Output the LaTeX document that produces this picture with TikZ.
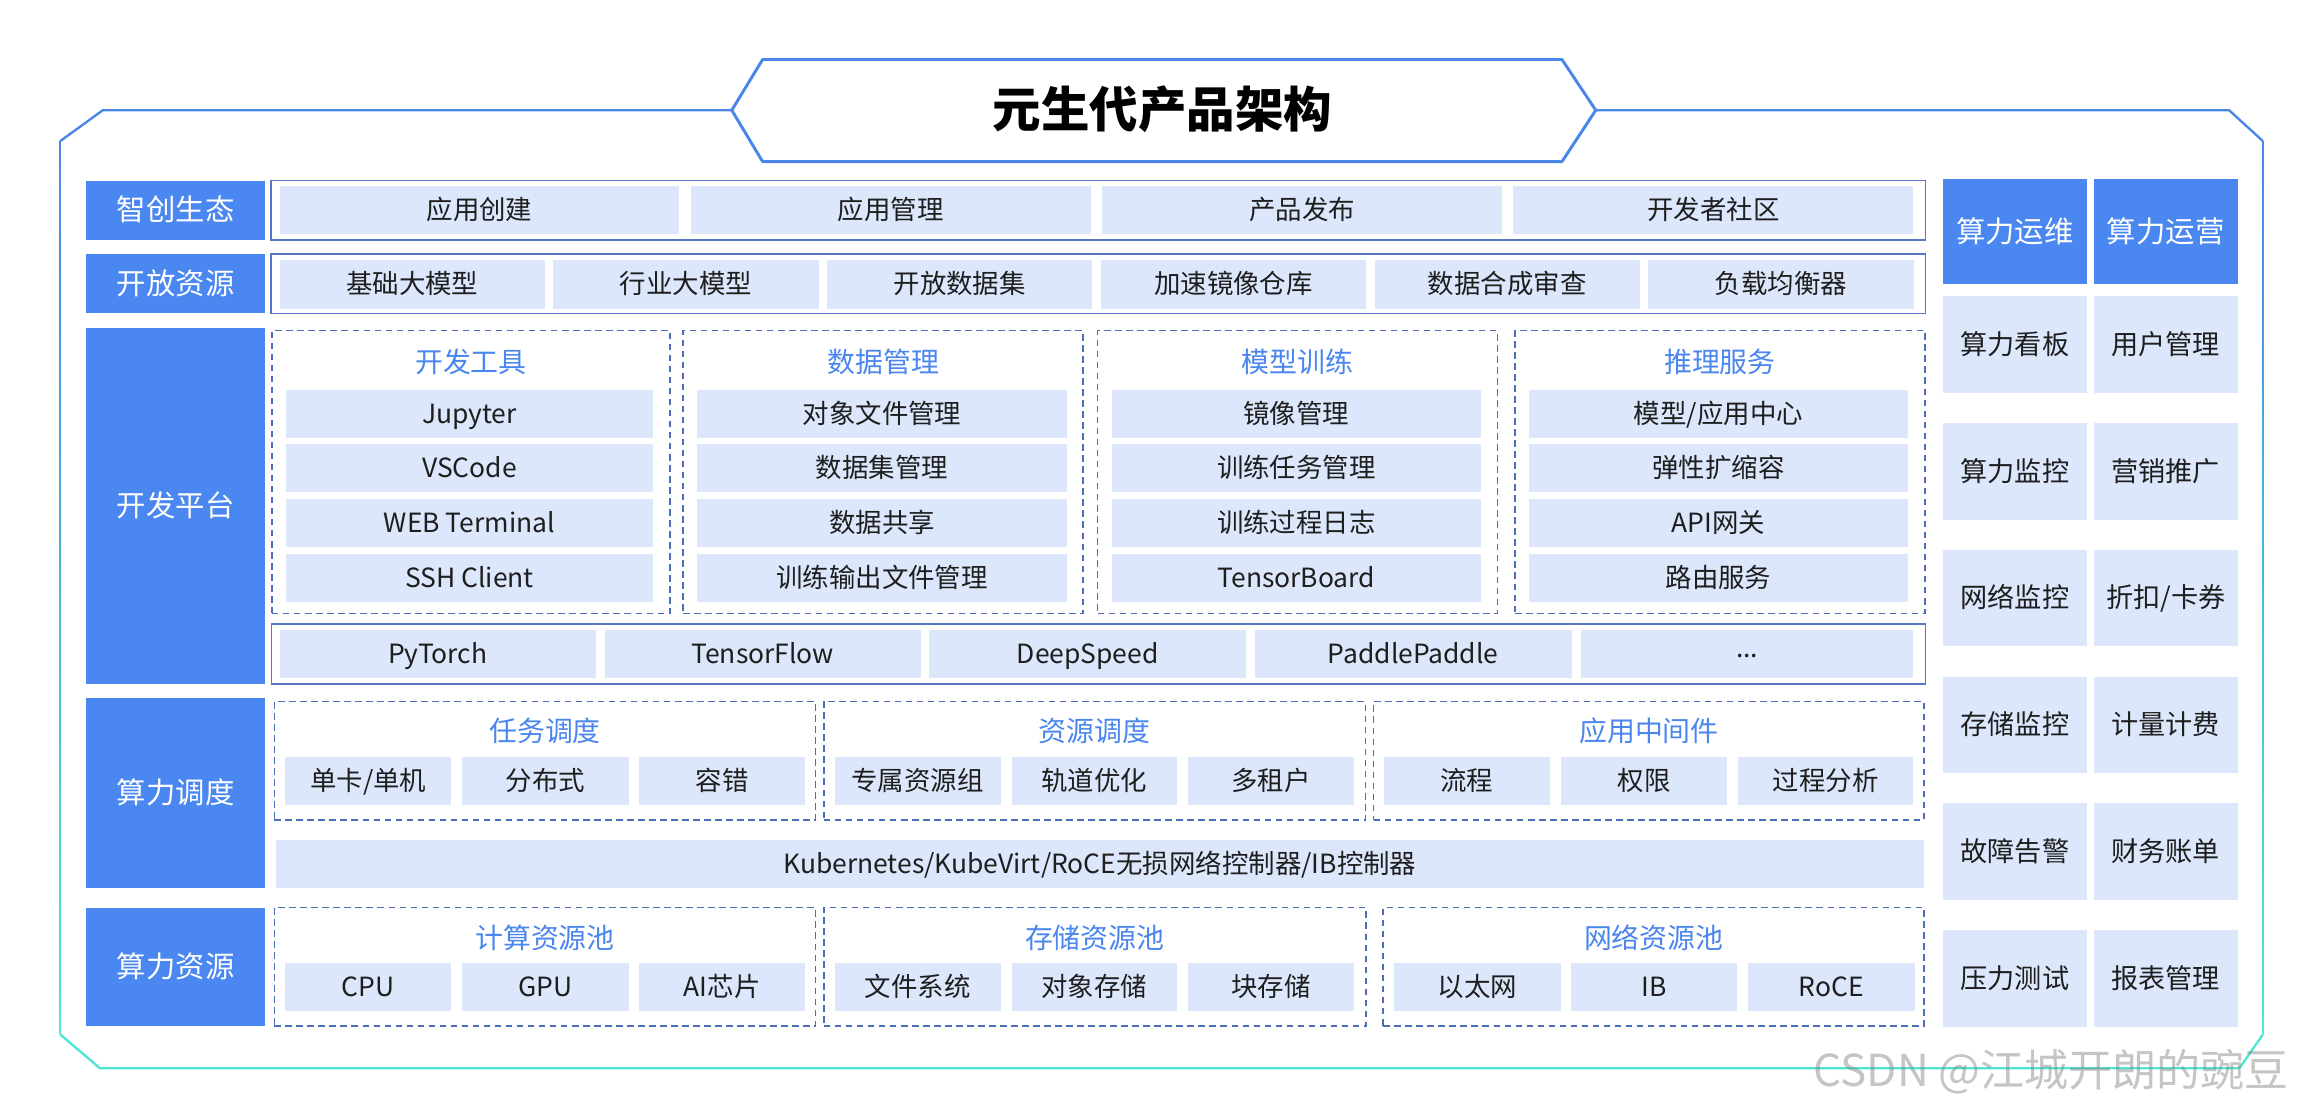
\documentclass[tikz,border=0pt]{standalone}
\usepackage{fontspec}
\setmainfont{Noto Sans CJK SC}
\definecolor{lbl}{HTML}{4A87F1}
\definecolor{cellc}{HTML}{DCE7FC}
\definecolor{dashc}{HTML}{4D6FB8}
\definecolor{outc}{HTML}{5678C4}
\definecolor{ttl}{HTML}{4A86EE}
\definecolor{txt}{HTML}{1E1E1E}
\definecolor{frtop}{HTML}{4A86E8}
\definecolor{frbot}{HTML}{4FE6D2}
\newcommand\mybox[7]{\node[#1,minimum width={(#5)-(#3)},minimum height={(#6)-(#4)}] (#2) at ({((#3)+(#5))/2},{((#4)+(#6))/2}) {#7};}
\begin{document}
\begin{tikzpicture}[x=1pt,y=-1pt,
  lab/.style={fill=lbl,text=white,font=\fontsize{20}{22}\selectfont,inner sep=0,outer sep=0,text height=17.2pt,text depth=2.8pt},
  cell/.style={fill=cellc,text=txt,font=\fontsize{18}{20}\selectfont,inner sep=0,outer sep=0,text height=15.5pt,text depth=2.5pt},
  rcell/.style={cell,font=\fontsize{18.5}{20}\selectfont,text height=15.9pt,text depth=2.6pt},
  grp/.style={draw=dashc,dash pattern=on 4.5pt off 3pt,line width=1.1pt,inner sep=0},
  outb/.style={draw=outc,line width=1pt,inner sep=0},
  gtitle/.style={text=ttl,font=\fontsize{19}{21}\selectfont,inner sep=0,text height=16.3pt,text depth=2.7pt}]
\useasboundingbox (0,0) rectangle (1568,755);
\fill[white] (0,0) rectangle (1568,755);
% ---- outer frame ----
\draw[frtop,line width=1.6pt,line join=round] (498,75) -- (70,75) -- (41,96);
\draw[frtop,line width=1.6pt,line join=round] (1086,75) -- (1517,75) -- (1540,96);
\foreach \i in {0,...,39}{
  \pgfmathsetmacro\ya{96+\i*15.2}
  \pgfmathsetmacro\yb{96+(\i+1)*15.2}
  \pgfmathtruncatemacro\p{100-\i*100/39}
  \draw[color=frtop!\p!frbot,line width=1.6pt] (41,\ya) -- (41,\yb);
  \draw[color=frtop!\p!frbot,line width=1.6pt] (1540,\ya) -- (1540,\yb);
}
\draw[frbot,line width=1.6pt,line join=round] (41,704) -- (68,727) -- (1524,727) -- (1540,704);
% ---- title ----
\draw[frtop,line width=2pt,fill=white,line join=round] (498,75) -- (519,40.5) -- (1063,40.5) -- (1086,75) -- (1063,110) -- (519,110) -- cycle;
\node[font=\fontsize{33}{36}\selectfont\bfseries,text=black,inner sep=0,text height=28.4pt,text depth=4.6pt] (title) at (791,75) {元生代产品架构};
% ---- left labels ----
\mybox{lab}{L1}{58.6}{123}{180.5}{163.3}{智创生态}
\mybox{lab}{L2}{58.6}{173}{180.5}{213.3}{开放资源}
\mybox{lab}{L3}{58.6}{223}{180.5}{465.5}{开发平台}
\mybox{lab}{L4}{58.6}{475}{180.5}{604.5}{算力调度}
\mybox{lab}{L5}{58.6}{618}{180.5}{698.3}{算力资源}
% ---- row 1 ----
\mybox{outb}{B1}{184.4}{123}{1310.5}{163.3}{}
\mybox{cell}{a1}{190.3}{126.6}{462.3}{159.5}{应用创建}
\mybox{cell}{a2}{470.2}{126.6}{742.2}{159.5}{应用管理}
\mybox{cell}{a3}{750.1}{126.6}{1022.1}{159.5}{产品发布}
\mybox{cell}{a4}{1030}{126.6}{1302}{159.5}{开发者社区}
% ---- row 2 ----
\mybox{outb}{B2}{184.4}{173}{1310.5}{213.3}{}
\mybox{cell}{b1}{190.3}{177}{370.8}{210}{基础大模型}
\mybox{cell}{b2}{376.6}{177}{557.1}{210}{行业大模型}
\mybox{cell}{b3}{562.9}{177}{743.4}{210}{开放数据集}
\mybox{cell}{b4}{749.2}{177}{929.7}{210}{加速镜像仓库}
\mybox{cell}{b5}{935.5}{177}{1116}{210}{数据合成审查}
\mybox{cell}{b6}{1121.8}{177}{1302.3}{210}{负载均衡器}
% ---- row 3: development platform ----
\mybox{grp}{g1}{185}{225}{456}{417.4}{}
\mybox{grp}{g2}{465}{225}{737}{417.4}{}
\mybox{grp}{g3}{747}{225}{1019}{417.4}{}
\mybox{grp}{g4}{1031}{225}{1310}{417.4}{}
\node[gtitle] (t1) at (320.5,247) {开发工具};
\node[gtitle] (t2) at (601,247) {数据管理};
\node[gtitle] (t3) at (883,247) {模型训练};
\node[gtitle] (t4) at (1170.5,247) {推理服务};
% group 1
\mybox{cell}{d11}{194.5}{265.4}{444.5}{298}{Jupyter}
\mybox{cell}{d12}{194.5}{302.4}{444.5}{334.8}{VSCode}
\mybox{cell}{d13}{194.5}{339.8}{444.5}{372.3}{WEB Terminal}
\mybox{cell}{d14}{194.5}{376.8}{444.5}{409.5}{SSH Client}
% group 2
\mybox{cell}{d21}{474.5}{265.4}{726}{298}{对象文件管理}
\mybox{cell}{d22}{474.5}{302.4}{726}{334.8}{数据集管理}
\mybox{cell}{d23}{474.5}{339.8}{726}{372.3}{数据共享}
\mybox{cell}{d24}{474.5}{376.8}{726}{409.5}{训练输出文件管理}
% group 3
\mybox{cell}{d31}{756.5}{265.4}{1008}{298}{镜像管理}
\mybox{cell}{d32}{756.5}{302.4}{1008}{334.8}{训练任务管理}
\mybox{cell}{d33}{756.5}{339.8}{1008}{372.3}{训练过程日志}
\mybox{cell}{d34}{756.5}{376.8}{1008}{409.5}{TensorBoard}
% group 4
\mybox{cell}{d41}{1040.5}{265.4}{1298.5}{298}{模型/应用中心}
\mybox{cell}{d42}{1040.5}{302.4}{1298.5}{334.8}{弹性扩缩容}
\mybox{cell}{d43}{1040.5}{339.8}{1298.5}{372.3}{API网关}
\mybox{cell}{d44}{1040.5}{376.8}{1298.5}{409.5}{路由服务}
% frameworks
\mybox{outb}{F}{184.8}{424.7}{1310.5}{465.5}{}
\mybox{cell}{f1}{190.3}{428.8}{405.5}{461.6}{PyTorch}
\mybox{cell}{f2}{411.5}{428.8}{626.5}{461.6}{TensorFlow}
\mybox{cell}{f3}{632.5}{428.8}{848}{461.6}{DeepSpeed}
\mybox{cell}{f4}{854}{428.8}{1069.5}{461.6}{PaddlePaddle}
\mybox{cell}{f5}{1076}{428.8}{1302}{461.6}{\raisebox{0.25em}{...}}
% ---- row 4: scheduling ----
\mybox{grp}{h1}{186.7}{477.5}{555}{558}{}
\mybox{grp}{h2}{560.6}{477.5}{929.2}{558}{}
\mybox{grp}{h3}{934.8}{477.5}{1309.5}{558}{}
\node[gtitle] (u1) at (370.9,498) {任务调度};
\node[gtitle] (u2) at (744.9,498) {资源调度};
\node[gtitle] (u3) at (1122.2,498) {应用中间件};
\mybox{cell}{e11}{194.2}{515.4}{307}{548}{单卡/单机}
\mybox{cell}{e12}{314.6}{515.4}{427.8}{548}{分布式}
\mybox{cell}{e13}{435}{515.4}{548}{548}{容错}
\mybox{cell}{e21}{568.1}{515.4}{680.9}{548}{专属资源组}
\mybox{cell}{e22}{688.4}{515.4}{801.2}{548}{轨道优化}
\mybox{cell}{e23}{808.7}{515.4}{921.5}{548}{多租户}
\mybox{cell}{e31}{941.8}{515.4}{1054.6}{548}{流程}
\mybox{cell}{e32}{1062.5}{515.4}{1175.3}{548}{权限}
\mybox{cell}{e33}{1183}{515.4}{1302}{548}{过程分析}
\mybox{cell}{K}{187.5}{571.7}{1309.5}{604.1}{Kubernetes/KubeVirt/RoCE无损网络控制器/IB控制器}
% ---- row 5: resources ----
\mybox{grp}{p1}{186.7}{617.7}{555}{698.3}{}
\mybox{grp}{p2}{560.6}{617.7}{929.6}{698.3}{}
\mybox{grp}{p3}{941.4}{617.7}{1309.5}{698.3}{}
\node[gtitle] (v1) at (370.9,638.6) {计算资源池};
\node[gtitle] (v2) at (745.1,638.6) {存储资源池};
\node[gtitle] (v3) at (1125.5,638.6) {网络资源池};
\mybox{cell}{q11}{194.2}{655.6}{307}{688}{CPU}
\mybox{cell}{q12}{314.6}{655.6}{427.8}{688}{GPU}
\mybox{cell}{q13}{435}{655.6}{548}{688}{AI芯片}
\mybox{cell}{q21}{568.1}{655.6}{680.9}{688}{文件系统}
\mybox{cell}{q22}{688.4}{655.6}{801.2}{688}{对象存储}
\mybox{cell}{q23}{808.7}{655.6}{921.5}{688}{块存储}
\mybox{cell}{q31}{948.7}{655.6}{1062}{688}{以太网}
\mybox{cell}{q32}{1069}{655.6}{1182.3}{688}{IB}
\mybox{cell}{q33}{1189.6}{655.6}{1303}{688}{RoCE}
% ---- right column ----
\mybox{lab}{R1}{1322}{122}{1420.6}{193.5}{算力运维}
\mybox{lab}{R2}{1424.8}{122}{1523}{193.5}{算力运营}
\mybox{rcell}{r11}{1322}{201.5}{1420.6}{267.3}{算力看板}
\mybox{rcell}{r12}{1322}{287.8}{1420.6}{353.6}{算力监控}
\mybox{rcell}{r13}{1322}{374.1}{1420.6}{439.9}{网络监控}
\mybox{rcell}{r14}{1322}{460.4}{1420.6}{526.2}{存储监控}
\mybox{rcell}{r15}{1322}{546.7}{1420.6}{612.5}{故障告警}
\mybox{rcell}{r16}{1322}{633}{1420.6}{698.8}{压力测试}
\mybox{rcell}{r21}{1424.8}{201.5}{1523}{267.3}{用户管理}
\mybox{rcell}{r22}{1424.8}{287.8}{1523}{353.6}{营销推广}
\mybox{rcell}{r23}{1424.8}{374.1}{1523}{439.9}{折扣/卡券}
\mybox{rcell}{r24}{1424.8}{460.4}{1523}{526.2}{计量计费}
\mybox{rcell}{r25}{1424.8}{546.7}{1523}{612.5}{财务账单}
\mybox{rcell}{r26}{1424.8}{633}{1523}{698.8}{报表管理}
% ---- watermark ----
\node[text=gray,opacity=0.45,font=\fontsize{30}{32}\selectfont,inner sep=0] (wm) at (1396,729.5) {CSDN @江城开朗的豌豆};
\end{tikzpicture}
\end{document}
